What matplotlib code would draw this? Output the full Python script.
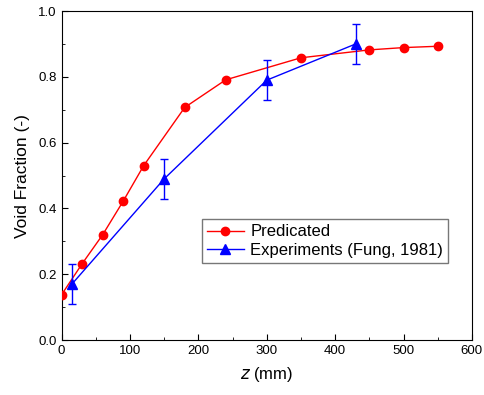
import matplotlib
matplotlib.use("Agg")
import matplotlib.pyplot as plt
from matplotlib.ticker import MultipleLocator, FormatStrFormatter
from matplotlib.lines import Line2D

plt.rcParams['font.family'] = ['Liberation Sans', 'DejaVu Sans']

# Predicted void fraction along the channel
z_pred = [0, 30, 60, 90, 120, 180, 240, 350, 450, 500, 550]
vf_pred = [0.138, 0.232, 0.320, 0.422, 0.530, 0.707, 0.791, 0.858, 0.882, 0.889, 0.893]

# Measured void fraction (Fung, 1981)
z_exp = [15, 150, 300, 430]
vf_exp = [0.17, 0.49, 0.79, 0.90]
vf_err = [0.06, 0.06, 0.06, 0.06]

fig = plt.figure(figsize=(4.85, 3.95), dpi=100)
ax = fig.add_axes([0.127, 0.139, 0.846, 0.833])

ax.plot(z_pred, vf_pred, color='red', marker='o', markersize=6, lw=1, zorder=3)
ax.errorbar(z_exp, vf_exp, yerr=vf_err, color='blue', marker='^', markersize=7,
            lw=1, elinewidth=1, capsize=3, capthick=1, zorder=4)

ax.set_xlim(0, 600)
ax.set_ylim(0, 1.0)
ax.xaxis.set_major_locator(MultipleLocator(100))
ax.xaxis.set_minor_locator(MultipleLocator(50))
ax.yaxis.set_major_locator(MultipleLocator(0.2))
ax.yaxis.set_minor_locator(MultipleLocator(0.1))
ax.yaxis.set_major_formatter(FormatStrFormatter('%.1f'))
ax.tick_params(which='both', direction='in', top=False, right=False, labelsize=9.5)
ax.tick_params(which='major', length=4)
ax.tick_params(which='minor', length=2)

ax.set_xlabel(r'$z$ (mm)', fontsize=12, labelpad=6)
ax.set_ylabel('Void Fraction (-)', fontsize=12.5, labelpad=6)

handles = [
    Line2D([], [], color='red', marker='o', markersize=6, lw=1),
    Line2D([], [], color='blue', marker='^', markersize=7, lw=1),
]
labels = ['Predicated', 'Experiments (Fung, 1981)']
leg = ax.legend(handles, labels, loc='upper right', bbox_to_anchor=(0.942, 0.367),
                fontsize=12, frameon=True, fancybox=False, edgecolor='#555555',
                handlelength=2.2, borderpad=0.3, labelspacing=0.2,
                handletextpad=0.4, borderaxespad=0)
leg.get_frame().set_linewidth(1)

fig.savefig('out.png', dpi=100)
